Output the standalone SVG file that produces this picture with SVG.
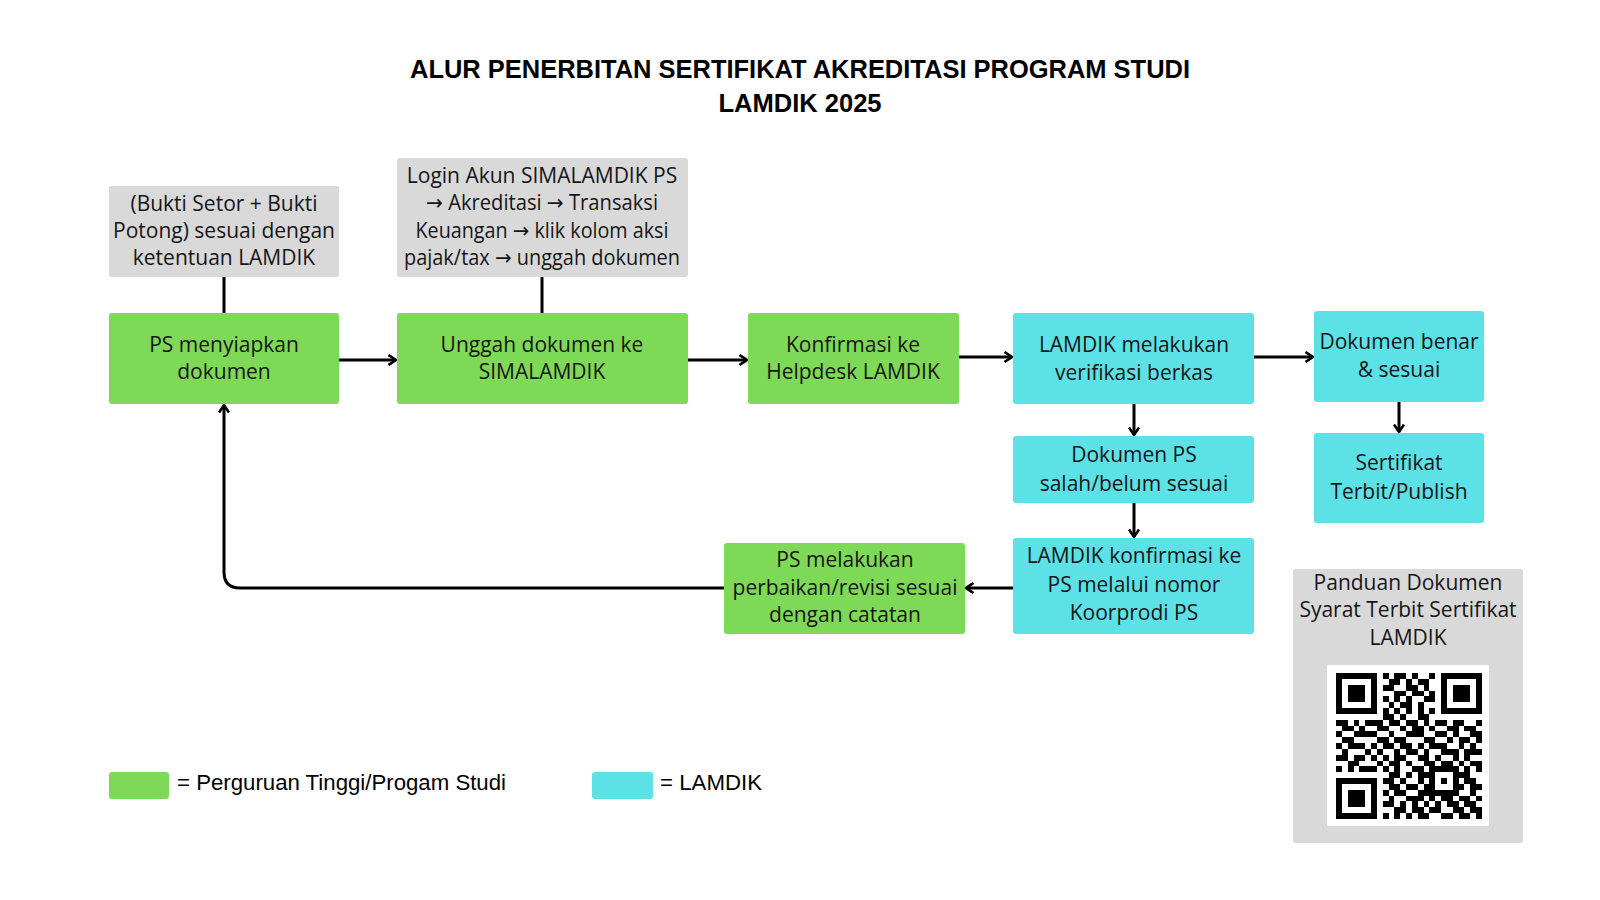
<svg xmlns="http://www.w3.org/2000/svg" width="1600" height="900" viewBox="0 0 1600 900">
<defs>
<style>
.t{font-family:"Open Sans","Noto Sans","DejaVu Sans",sans-serif;font-size:21px;fill:#161616;text-anchor:middle}
.title{font-family:"Liberation Sans",Arial,sans-serif;font-weight:bold;font-size:25px;fill:#000;text-anchor:middle}
.leg{font-family:"Liberation Sans",Arial,sans-serif;font-size:22px;fill:#000}
.g{fill:#7ed957}
.c{fill:#5ce1e6}
.gr{fill:#d9d9d9}
.ln{stroke:#000;stroke-width:3;fill:none}
</style>
<marker id="ah" viewBox="0 0 10 12" refX="8.5" refY="6" markerWidth="10" markerHeight="12" markerUnits="userSpaceOnUse" orient="auto">
<path d="M1,1 L8.5,6 L1,11" fill="none" stroke="#000" stroke-width="2.6"/>
</marker>
</defs>
<rect width="1600" height="900" fill="#fff"/>

<g id="title">
<text class="title" x="800" y="78" textLength="780" lengthAdjust="spacingAndGlyphs">ALUR PENERBITAN SERTIFIKAT AKREDITASI PROGRAM STUDI</text>
<text class="title" x="800" y="112" textLength="163" lengthAdjust="spacingAndGlyphs">LAMDIK 2025</text>
</g>

<g id="connectors">
<line class="ln" x1="224" y1="277" x2="224" y2="313"/>
<line class="ln" x1="542" y1="277" x2="542" y2="313"/>
<line class="ln" x1="339" y1="360" x2="396" y2="360" marker-end="url(#ah)"/>
<line class="ln" x1="688" y1="360" x2="747" y2="360" marker-end="url(#ah)"/>
<line class="ln" x1="959" y1="357" x2="1012" y2="357" marker-end="url(#ah)"/>
<line class="ln" x1="1254" y1="357" x2="1313" y2="357" marker-end="url(#ah)"/>
<line class="ln" x1="1134" y1="404" x2="1134" y2="435" marker-end="url(#ah)"/>
<line class="ln" x1="1134" y1="503" x2="1134" y2="537" marker-end="url(#ah)"/>
<line class="ln" x1="1399" y1="402" x2="1399" y2="432" marker-end="url(#ah)"/>
<line class="ln" x1="1013" y1="588" x2="966" y2="588" marker-end="url(#ah)"/>
<path class="ln" d="M724,588 H240 Q224,588 224,572 V405" marker-end="url(#ah)"/>
</g>

<g id="note1">
<rect class="gr" x="109" y="186" width="230" height="91" rx="3"/>
<text class="t" x="224" y="211">(Bukti Setor + Bukti</text>
<text class="t" x="224" y="238">Potong) sesuai dengan</text>
<text class="t" x="224" y="265">ketentuan LAMDIK</text>
</g>

<g id="note2">
<rect class="gr" x="397" y="158" width="291" height="119" rx="3"/>
<text class="t" x="542" y="183">Login Akun SIMALAMDIK PS</text>
<text class="t" x="542" y="210" textLength="232" lengthAdjust="spacingAndGlyphs">→ Akreditasi → Transaksi</text>
<text class="t" x="542" y="238" textLength="253" lengthAdjust="spacingAndGlyphs">Keuangan → klik kolom aksi</text>
<text class="t" x="542" y="265" textLength="276" lengthAdjust="spacingAndGlyphs">pajak/tax → unggah dokumen</text>
</g>

<g id="n1">
<rect class="g" x="109" y="313" width="230" height="91" rx="3"/>
<text class="t" x="224" y="352">PS menyiapkan</text>
<text class="t" x="224" y="379">dokumen</text>
</g>

<g id="n2">
<rect class="g" x="397" y="313" width="291" height="91" rx="3"/>
<text class="t" x="542" y="352">Unggah dokumen ke</text>
<text class="t" x="542" y="379">SIMALAMDIK</text>
</g>

<g id="n3">
<rect class="g" x="748" y="313" width="211" height="91" rx="3"/>
<text class="t" x="853" y="352">Konfirmasi ke</text>
<text class="t" x="853" y="379">Helpdesk LAMDIK</text>
</g>

<g id="n4">
<rect class="c" x="1013" y="313" width="241" height="91" rx="3"/>
<text class="t" x="1134" y="352">LAMDIK melakukan</text>
<text class="t" x="1134" y="380">verifikasi berkas</text>
</g>

<g id="n5">
<rect class="c" x="1314" y="311" width="170" height="91" rx="3"/>
<text class="t" x="1399" y="349">Dokumen benar</text>
<text class="t" x="1399" y="377">&amp; sesuai</text>
</g>

<g id="n6">
<rect class="c" x="1013" y="436" width="241" height="67" rx="3"/>
<text class="t" x="1134" y="462">Dokumen PS</text>
<text class="t" x="1134" y="491">salah/belum sesuai</text>
</g>

<g id="n7">
<rect class="c" x="1314" y="433" width="170" height="90" rx="3"/>
<text class="t" x="1399" y="470">Sertifikat</text>
<text class="t" x="1399" y="499">Terbit/Publish</text>
</g>

<g id="n8">
<rect class="c" x="1013" y="538" width="241" height="96" rx="3"/>
<text class="t" x="1134" y="563">LAMDIK konfirmasi ke</text>
<text class="t" x="1134" y="592">PS melalui nomor</text>
<text class="t" x="1134" y="620">Koorprodi PS</text>
</g>

<g id="n9">
<rect class="g" x="724" y="543" width="241" height="91" rx="3"/>
<text class="t" x="845" y="567">PS melakukan</text>
<text class="t" x="845" y="595">perbaikan/revisi sesuai</text>
<text class="t" x="845" y="622">dengan catatan</text>
</g>

<g id="qrpanel">
<rect class="gr" x="1293" y="569" width="230" height="274" rx="3"/>
<text class="t" x="1408" y="590">Panduan Dokumen</text>
<text class="t" x="1408" y="617">Syarat Terbit Sertifikat</text>
<text class="t" x="1408" y="645">LAMDIK</text>
<rect x="1327" y="665" width="162" height="161" fill="#fff"/>
<g transform="translate(1336,673) scale(5.84)" fill="#000" shape-rendering="crispEdges">
<path d="M0 0h7v7h-7z M18 0h7v7h-7z M0 18h7v7h-7z M16 16h5v5h-5z"/>
<path fill="#fff" d="M1 1h5v5h-5z M19 1h5v5h-5z M1 19h5v5h-5z M17 17h3v3h-3z"/>
<path d="M2 2h3v3h-3z M20 2h3v3h-3z M2 20h3v3h-3z M18 18h1v1h-1z"/>
<path d="M8 0h1v1h-1z M10 0h2v1h-2z M13 0h1v1h-1z M16 0h1v1h-1z
M9 1h2v1h-2z M12 1h1v1h-1z M14 1h2v1h-2z
M8 2h2v1h-2z M12 2h2v1h-2z M15 2h1v1h-1z
M10 3h2v1h-2z M13 3h2v1h-2z M16 3h1v1h-1z
M8 4h1v1h-1z M10 4h1v1h-1z M12 4h1v1h-1z M15 4h2v1h-2z
M9 5h1v1h-1z M11 5h2v1h-2z M14 5h1v1h-1z
M8 6h1v1h-1z M10 6h1v1h-1z M12 6h1v1h-1z M14 6h1v1h-1z M16 6h1v1h-1z
M8 7h2v1h-2z M11 7h1v1h-1z M14 7h2v1h-2z
M0 8h2v1h-2z M3 8h1v1h-1z M5 8h3v1h-3z M9 8h2v1h-2z M12 8h2v1h-2z M15 8h1v1h-1z M17 8h2v1h-2z M20 8h2v1h-2z M24 8h1v1h-1z
M1 9h2v1h-2z M4 9h1v1h-1z M7 9h2v1h-2z M11 9h1v1h-1z M13 9h2v1h-2z M16 9h1v1h-1z M19 9h2v1h-2z M22 9h2v1h-2z
M0 10h1v1h-1z M3 10h4v1h-4z M9 10h1v1h-1z M12 10h3v1h-3z M17 10h2v1h-2z M20 10h1v1h-1z M23 10h2v1h-2z
M1 11h2v1h-2z M7 11h2v1h-2z M10 11h2v1h-2z M15 11h2v1h-2z M19 11h1v1h-1z M21 11h2v1h-2z M24 11h1v1h-1z
M0 12h1v1h-1z M2 12h3v1h-3z M6 12h1v1h-1z M8 12h2v1h-2z M11 12h2v1h-2z M14 12h1v1h-1z M16 12h3v1h-3z M21 12h1v1h-1z M23 12h1v1h-1z
M1 13h1v1h-1z M5 13h1v1h-1z M7 13h1v1h-1z M10 13h1v1h-1z M12 13h2v1h-2z M15 13h1v1h-1z M18 13h3v1h-3z M22 13h3v1h-3z
M0 14h2v1h-2z M3 14h2v1h-2z M6 14h1v1h-1z M8 14h1v1h-1z M10 14h2v1h-2z M14 14h2v1h-2z M17 14h1v1h-1z M20 14h1v1h-1z M22 14h1v1h-1z
M2 15h2v1h-2z M7 15h1v1h-1z M9 15h2v1h-2z M12 15h1v1h-1z M15 15h2v1h-2z M18 15h2v1h-2z M21 15h1v1h-1z M23 15h2v1h-2z
M0 16h1v1h-1z M2 16h1v1h-1z M4 16h3v1h-3z M8 16h1v1h-1z M10 16h1v1h-1z M13 16h2v1h-2z M22 16h1v1h-1z M24 16h1v1h-1z
M9 17h2v1h-2z M12 17h1v1h-1z M14 17h2v1h-2z M21 17h2v1h-2z
M8 18h2v1h-2z M11 18h1v1h-1z M14 18h1v1h-1z M22 18h2v1h-2z
M9 19h2v1h-2z M12 19h2v1h-2z M15 19h1v1h-1z M21 19h1v1h-1z M23 19h2v1h-2z
M8 20h1v1h-1z M10 20h2v1h-2z M14 20h2v1h-2z M23 20h1v1h-1z
M9 21h1v1h-1z M12 21h3v1h-3z M16 21h1v1h-1z M18 21h2v1h-2z M21 21h2v1h-2z M24 21h1v1h-1z
M8 22h2v1h-2z M11 22h1v1h-1z M13 22h1v1h-1z M15 22h1v1h-1z M17 22h1v1h-1z M19 22h2v1h-2z M22 22h2v1h-2z
M10 23h2v1h-2z M13 23h2v1h-2z M16 23h2v1h-2z M20 23h2v1h-2z M23 23h2v1h-2z
M8 24h1v1h-1z M10 24h1v1h-1z M12 24h1v1h-1z M14 24h2v1h-2z M18 24h2v1h-2z M21 24h2v1h-2z M24 24h1v1h-1z"/>
</g>
</g>

<g id="legend">
<rect class="g" x="109" y="772" width="60" height="27" rx="3"/>
<text class="leg" x="177" y="790" textLength="329" lengthAdjust="spacingAndGlyphs">= Perguruan Tinggi/Progam Studi</text>
<rect class="c" x="592" y="772" width="61" height="27" rx="3"/>
<text class="leg" x="660" y="790" textLength="102" lengthAdjust="spacingAndGlyphs">= LAMDIK</text>
</g>
</svg>
